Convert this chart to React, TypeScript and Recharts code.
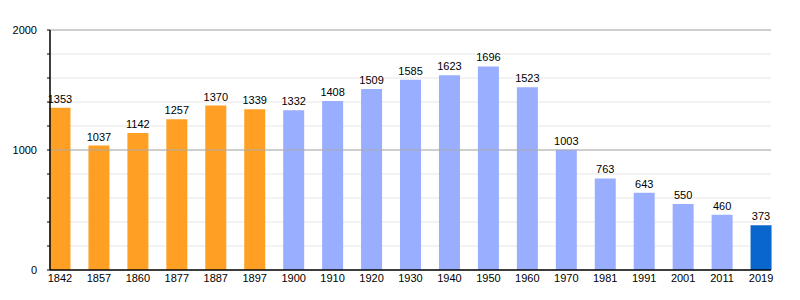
import React from "react";
import {
  BarChart,
  Bar,
  XAxis,
  YAxis,
  CartesianGrid,
  ReferenceLine,
  LabelList,
  Cell,
} from "recharts";

const years = [
  "1842", "1857", "1860", "1877", "1887", "1897", "1900", "1910", "1920", "1930",
  "1940", "1950", "1960", "1970", "1981", "1991", "2001", "2011", "2019",
];
const population = [
  1353, 1037, 1142, 1257, 1370, 1339, 1332, 1408, 1509, 1585,
  1623, 1696, 1523, 1003, 763, 643, 550, 460, 373,
];
const yTicks = [0, 200, 400, 600, 800, 1000, 1200, 1400, 1600, 1800, 2000];
const yLabels = [0, 1000, 2000];

const data = years.map((year, i) => ({ year, value: population[i] }));

function barColor(year: string) {
  const y = Number(year);
  if (y < 1900) return "#FFA024";
  if (y === 2019) return "#0866CC";
  return "#9AAEFF";
}

export default function App() {
  return (
    <div
      style={{
        position: "absolute",
        left: 0,
        top: 0,
        width: 800,
        height: 300,
        background: "#fff",
        fontFamily: "'Liberation Sans', Arial, sans-serif",
      }}>
      <BarChart
        width={800}
        height={300}
        data={data}
        margin={{ top: 30, right: 29, bottom: 0, left: 0 }}>
        <CartesianGrid vertical={false} stroke="#E6E6E6" />
        <ReferenceLine y={1000} stroke="#AAAAAA" />
        <ReferenceLine y={2000} stroke="#AAAAAA" />
        <XAxis
          dataKey="year"
          height={30}
          padding={{ left: -9.5, right: -9.5 }}
          axisLine={{ stroke: "#000", strokeWidth: 1.5 }}
          tickLine={false}
          tickSize={0}
          tickMargin={4}
          interval={0}
          tick={{ fontSize: 11, fill: "#000" }}
        />
        <YAxis
          width={50}
          domain={[0, 2000]}
          ticks={yTicks}
          interval={0}
          axisLine={{ stroke: "#000", strokeWidth: 1.5 }}
          tickLine={{ stroke: "#000" }}
          tickSize={3}
          tickMargin={10}
          tickFormatter={(v: number) => (yLabels.includes(v) ? String(v) : "")}
          tick={{ fontSize: 11, fill: "#000" }}
        />
        <Bar dataKey="value" barSize={21} isAnimationActive={false}>
          {data.map((d) => (
            <Cell key={d.year} fill={barColor(d.year)} />
          ))}
          <LabelList
            dataKey="value"
            position="top"
            offset={5}
            style={{ fontSize: 11, fill: "#000" }}
          />
        </Bar>
      </BarChart>
    </div>
  );
}
